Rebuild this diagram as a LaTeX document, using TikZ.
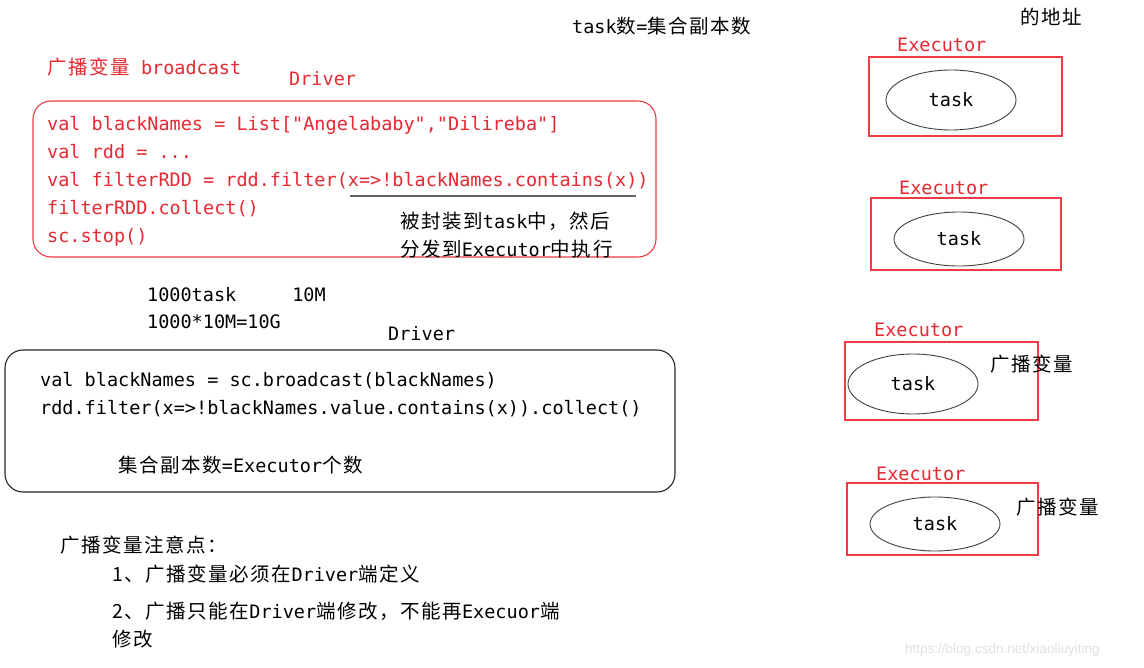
\documentclass[tikz,border=0pt]{standalone}
\usepackage{fontspec}
\usetikzlibrary{shapes.geometric}
\newfontfamily\mono{DejaVu Sans Mono}
\newfontfamily\cjk[LetterSpace=8]{Noto Sans CJK SC}
\newfontfamily\wmfont{Liberation Sans}
\newcommand\C[1]{{\cjk\fontsize{19.5}{28}\selectfont #1}}
\definecolor{txtred}{RGB}{232,40,50}
\definecolor{boxred}{RGB}{238,60,70}
\begin{document}
\begin{tikzpicture}[x=1pt,y=-1pt,
  every node/.style={inner sep=0pt, font=\mono\fontsize{18.5}{28}\selectfont},
  txt/.style={anchor=mid west, text=black, yshift=-4.5pt},
  rtxt/.style={anchor=mid west, text=txtred, yshift=-4.5pt},
  exbox/.style={draw=boxred, line width=1.1pt, fill=none},
  tasknode/.style={ellipse, draw=black!75, line width=0.9pt, minimum width=130, minimum height=60},
  codebox/.style={rounded corners=18pt, line width=1.1pt}]
\useasboundingbox (0,0) rectangle (1144,668);
\fill[white] (0,0) rectangle (1144,668);

% top texts
\node[txt] (tnum) at (572,27) {task\C{数}=\C{集合副本数}};
\node[txt] (addr) at (1020,18) {\C{的地址}};

% first driver block
\node[rtxt] (bc) at (47,68) {\C{广播变量} broadcast};
\node[rtxt] (drv1) at (289,79) {Driver};
\node[codebox, draw=boxred, minimum width=623, minimum height=156] (box1) at (344.5,179) {};
\node[rtxt] (c1) at (47,124) {val blackNames = List["Angelababy","Dilireba"]};
\node[rtxt] (c2) at (47,152) {val rdd = ...};
\node[rtxt] (c3) at (47,180) {val filterRDD = rdd.filter(x=>!blackNames.contains(x))};
\node[rtxt] (c4) at (47,208) {filterRDD.collect()};
\node[rtxt] (c5) at (47,236) {sc.stop()};
\coordinate (u1) at (350,196);
\coordinate (u2) at (636,196);
\draw[black!60, line width=1.2pt] (u1) -- (u2);
\node[txt] (w1) at (400,222) {\C{被封装到}task\C{中，然后}};
\node[txt] (w2) at (400,250) {\C{分发到}Executor\C{中执行}};

% middle texts
\node[txt] (n1) at (147,295) {1000task\hspace{56pt}10M};
\node[txt] (n2) at (147,322) {1000*10M=10G};
\node[txt] (drv2) at (388,334) {Driver};

% second driver block
\node[codebox, draw=black!85, minimum width=670, minimum height=142] (box2) at (340,421) {};
\node[txt] (d1) at (40,380) {val blackNames = sc.broadcast(blackNames)};
\node[txt] (d2) at (40,408) {rdd.filter(x=>!blackNames.value.contains(x)).collect()};
\node[txt] (cnt) at (118,466) {\C{集合副本数}=Executor\C{个数}};

% notes
\node[txt] (nt0) at (60,546) {\C{广播变量注意点：}};
\node[txt] (nt1) at (112,575) {\C{1、广播变量必须在}Driver\C{端定义}};
\node[txt] (nt2) at (112,612) {\C{2、广播只能在}Driver\C{端修改，不能再}Execuor\C{端}};
\node[txt] (nt3) at (112,640) {\C{修改}};

% executors
\node[rtxt] (el1) at (897,45) {Executor};
\node[exbox, minimum width=193, minimum height=79] (ex1) at (965.5,96.5) {};
\node[tasknode] (tk1) at (951,100) {task};

\node[rtxt] (el2) at (899,188) {Executor};
\node[exbox, minimum width=190, minimum height=72] (ex2) at (966,234) {};
\node[tasknode, minimum height=54] (tk2) at (959,239) {task};

\node[rtxt] (el3) at (874,330) {Executor};
\node[exbox, minimum width=193, minimum height=78] (ex3) at (941.5,381) {};
\node[tasknode] (tk3) at (913,384) {task};
\node[txt] (bv3) at (990,365) {\C{广播变量}};

\node[rtxt] (el4) at (876,474) {Executor};
\node[exbox, minimum width=191, minimum height=72] (ex4) at (942.5,519) {};
\node[tasknode, minimum height=54] (tk4) at (935,524) {task};
\node[txt] (bv4) at (1016,508) {\C{广播变量}};

% watermark
\node[anchor=mid west, text=black!12, font=\wmfont\fontsize{13.5}{16}\selectfont] (wm) at (905,651) {https://blog.csdn.net/xiaoliuyiting};
\end{tikzpicture}
\end{document}
